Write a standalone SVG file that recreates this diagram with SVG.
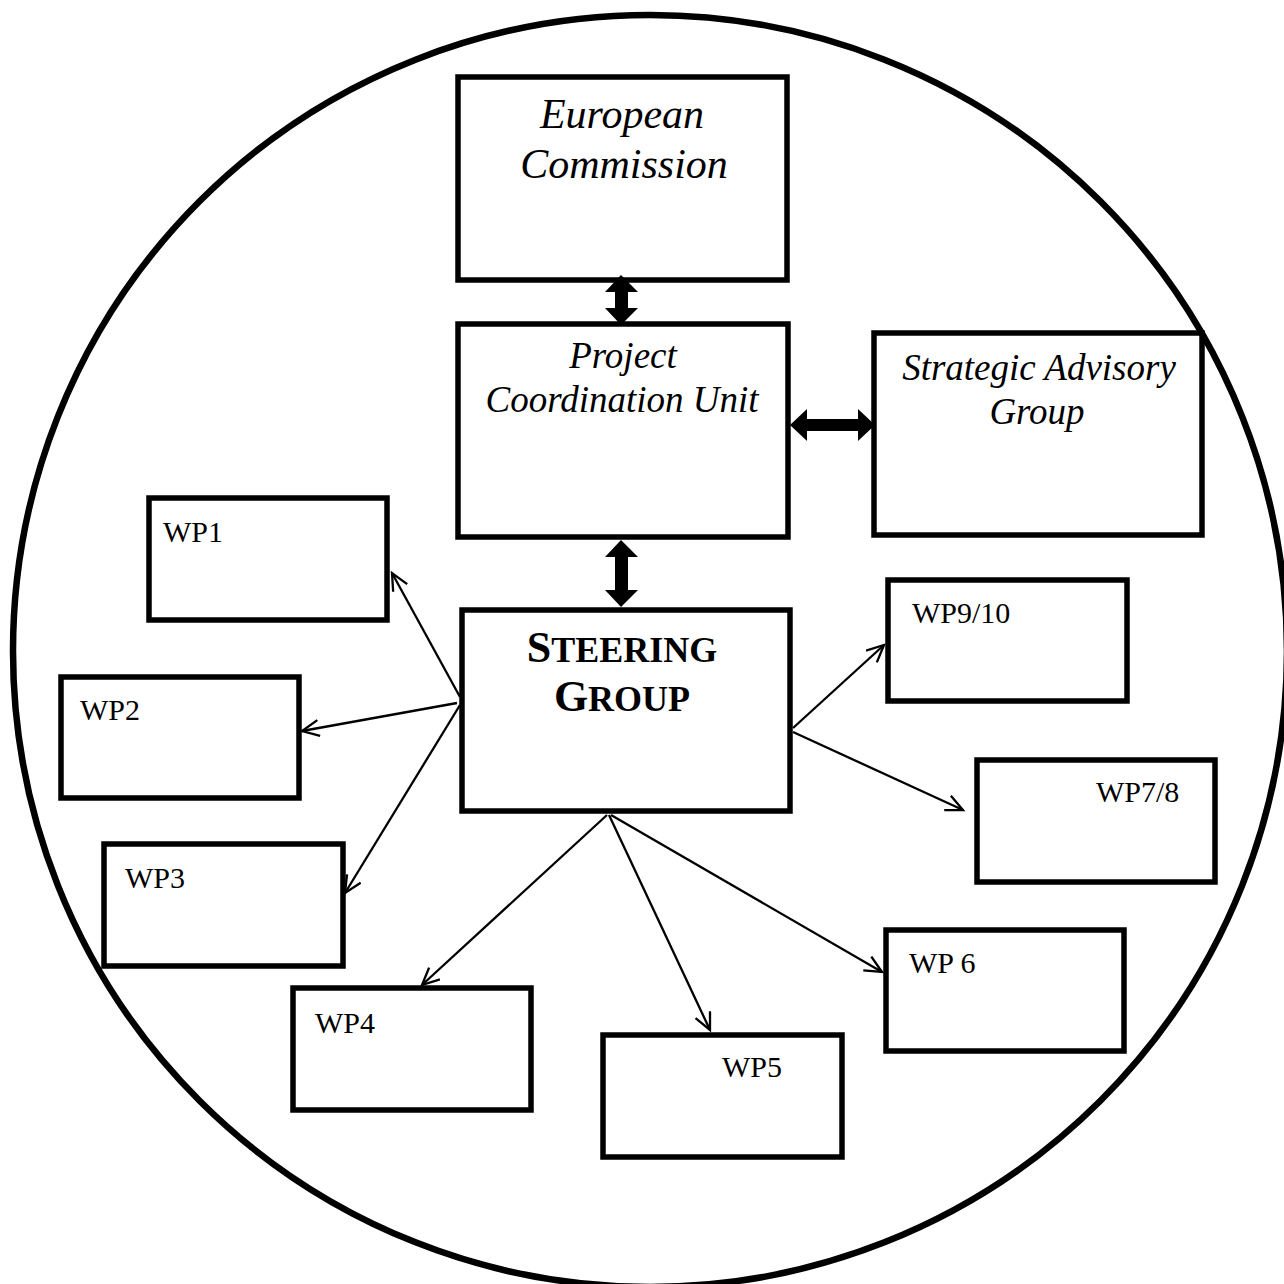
<svg xmlns="http://www.w3.org/2000/svg" width="1284" height="1284" viewBox="0 0 1284 1284">
<style>
.box{fill:none;stroke:#000;stroke-width:5.5}
.it{font-family:"Liberation Serif","Times New Roman",serif;font-style:italic;font-size:37px;fill:#000;text-anchor:middle}
.wp{font-family:"Liberation Serif","Times New Roman",serif;font-size:30px;fill:#000}
.sg{font-family:"Liberation Serif","Times New Roman",serif;font-weight:bold;fill:#000;text-anchor:middle}
.thin{fill:none;stroke:#000;stroke-width:2.3;marker-end:url(#open)}
.thick{fill:#000;stroke:none}
</style>
<defs>
<marker id="open" markerUnits="userSpaceOnUse" markerWidth="22" markerHeight="22" refX="18" refY="9" orient="auto">
<path d="M1,1 L18,9 L1,17" fill="none" stroke="#000" stroke-width="2.3"/>
</marker>
</defs>
<rect width="1284" height="1284" fill="#fff"/>
<g id="connectors">
<polygon class="thick" points="621,275 638,292 628,292 628,308 638,308 621,325 605,308 615,308 615,292 605,292"/>
<polygon class="thick" points="621,540 638,557 628,557 628,590 638,590 621,607 605,590 615,590 615,557 605,557"/>
<polygon class="thick" points="790,425 807,409 807,419 858,419 858,409 875,425 858,441 858,431 807,431 807,441"/>
<line class="thin" x1="460" y1="697" x2="392" y2="573"/>
<line class="thin" x1="457" y1="703" x2="302" y2="731"/>
<line class="thin" x1="460" y1="705" x2="345" y2="893"/>
<line class="thin" x1="607" y1="815" x2="422" y2="985"/>
<line class="thin" x1="609" y1="815" x2="710" y2="1030"/>
<line class="thin" x1="611" y1="815" x2="882" y2="972"/>
<line class="thin" x1="793" y1="728" x2="884" y2="645"/>
<line class="thin" x1="793" y1="732" x2="963" y2="810"/>
</g>
<g id="european-commission">
<rect class="box" x="458" y="77" width="329" height="203"/>
<text class="it" x="622" y="128" style="font-size:42px">European</text>
<text class="it" x="624" y="178" style="font-size:42px">Commission</text>
</g>
<g id="project-coordination-unit">
<rect class="box" x="458" y="324" width="330" height="213"/>
<text class="it" x="623" y="368">Project</text>
<text class="it" x="622" y="412">Coordination Unit</text>
</g>
<g id="strategic-advisory-group">
<rect class="box" x="874" y="333" width="328" height="202"/>
<text class="it" x="1039" y="380">Strategic Advisory</text>
<text class="it" x="1037" y="424">Group</text>
</g>
<g id="steering-group">
<rect class="box" x="462" y="610" width="328" height="201"/>
<text class="sg" x="622" y="662"><tspan style="font-size:44px">S</tspan><tspan style="font-size:36px">TEERING</tspan></text>
<text class="sg" x="622" y="711"><tspan style="font-size:44px">G</tspan><tspan style="font-size:36px">ROUP</tspan></text>
</g>
<g id="wp1">
<rect class="box" x="149" y="498" width="238" height="122"/>
<text class="wp" x="163" y="542">WP1</text>
</g>
<g id="wp2">
<rect class="box" x="61" y="677" width="238" height="121"/>
<text class="wp" x="80" y="720">WP2</text>
</g>
<g id="wp3">
<rect class="box" x="104" y="844" width="239" height="122"/>
<text class="wp" x="125" y="888">WP3</text>
</g>
<g id="wp4">
<rect class="box" x="293" y="988" width="238" height="122"/>
<text class="wp" x="315" y="1033">WP4</text>
</g>
<g id="wp5">
<rect class="box" x="603" y="1035" width="239" height="122"/>
<text class="wp" x="722" y="1077">WP5</text>
</g>
<g id="wp6">
<rect class="box" x="886" y="930" width="238" height="121"/>
<text class="wp" x="909" y="973">WP 6</text>
</g>
<g id="wp7-8">
<rect class="box" x="977" y="760" width="238" height="122"/>
<text class="wp" x="1096" y="802">WP7/8</text>
</g>
<g id="wp9-10">
<rect class="box" x="888" y="580" width="239" height="121"/>
<text class="wp" x="912" y="623">WP9/10</text>
</g>
<g id="boundary">
<ellipse cx="650" cy="651" rx="637" ry="636" fill="none" stroke="#000" stroke-width="6.5"/>
</g>
</svg>
